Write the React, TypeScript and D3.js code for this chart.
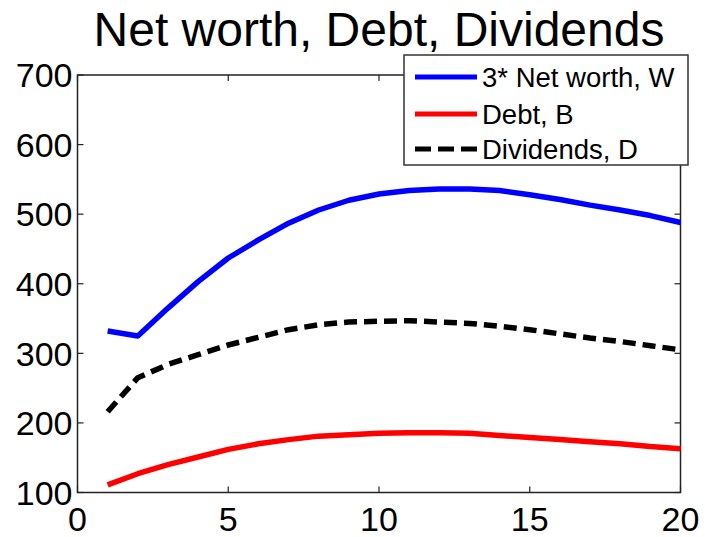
import React from 'react';
import * as d3 from 'd3';

// years 1..20
const periods = d3.range(1, 21);

const netWorth3 = [332, 325, 365, 403, 437, 463, 487, 506, 520, 529, 534, 536, 536, 534, 528, 521, 513, 506, 498, 488];
const debt = [111, 127, 140, 151, 162, 170, 176, 181, 183, 185, 186, 186, 185, 182, 179, 176, 173, 170, 166, 163];
const dividends = [216, 265, 284, 298, 312, 323, 334, 341, 345, 346, 347, 345, 343, 339, 334, 328, 322, 317, 311, 305];

const xTicks = [0, 5, 10, 15, 20];
const yTicks = [100, 200, 300, 400, 500, 600, 700];

const series = [
  { name: '3* Net worth, W', values: netWorth3, color: '#0000ff', dash: null },
  { name: 'Debt, B', values: debt, color: '#ff0000', dash: null },
  { name: 'Dividends, D', values: dividends, color: '#000000', dash: '13,7' },
];

const W = 705;
const H = 537;
const margin = { left: 77.5, right: 24.5, top: 75, bottom: 44.5 };

export default function App() {
  const x = d3.scaleLinear().domain([0, 20]).range([margin.left, W - margin.right]);
  const y = d3.scaleLinear().domain([100, 700]).range([H - margin.bottom, margin.top]);

  const line = d3.line<number>()
    .x((_, i) => x(periods[i]))
    .y(d => y(d));

  const [x0, x1] = x.range();
  const [y0, y1] = y.range();
  const tick = 6;
  const font = '"Liberation Sans", Arial, sans-serif';

  // legend box
  const lg = { x: 404, y: 55, w: 284, h: 110 };
  const rowY = [77, 114, 149];

  return (
    <div style={{ position: 'absolute', left: 0, top: 0 }}>
      <svg width={W} height={H} style={{ display: 'block', background: '#fff' }} fontFamily={font}>
        <rect width={W} height={H} fill="#fff" />
        <text x={379} y={46} textAnchor="middle" fontSize={48} fill="#000">
          Net worth, Debt, Dividends
        </text>

        {/* axes box */}
        <rect x={x0} y={y1} width={x1 - x0} height={y0 - y1} fill="none" stroke="#222" strokeWidth={1.5} />

        {xTicks.map(t => (
          <g key={'x' + t}>
            <line x1={x(t)} x2={x(t)} y1={y0} y2={y0 - tick} stroke="#222" strokeWidth={1.2} />
            <line x1={x(t)} x2={x(t)} y1={y1} y2={y1 + tick} stroke="#222" strokeWidth={1.2} />
            <text x={x(t)} y={531} textAnchor="middle" fontSize={34} fill="#000">{t}</text>
          </g>
        ))}
        {yTicks.map(t => (
          <g key={'y' + t}>
            <line x1={x0} x2={x0 + tick} y1={y(t)} y2={y(t)} stroke="#222" strokeWidth={1.2} />
            <line x1={x1} x2={x1 - tick} y1={y(t)} y2={y(t)} stroke="#222" strokeWidth={1.2} />
            <text x={x0 - 5} y={y(t)} dy="0.36em" textAnchor="end" fontSize={34} fill="#000">{t}</text>
          </g>
        ))}

        {series.map(s => (
          <path
            key={s.name}
            d={line(s.values) || ''}
            fill="none"
            stroke={s.color}
            strokeWidth={5.5}
            strokeLinejoin="round"
            strokeDasharray={s.dash || undefined}
          />
        ))}

        {/* legend */}
        <rect x={lg.x} y={lg.y} width={lg.w} height={lg.h} fill="#fff" stroke="#333" strokeWidth={1.5} />
        {series.map((s, i) => (
          <g key={'lg' + s.name}>
            <line x1={415} x2={477} y1={rowY[i]} y2={rowY[i]} stroke={s.color} strokeWidth={5}
              strokeDasharray={s.dash ? '16,7' : undefined} />
            <text x={482} y={rowY[i]} dy="0.36em" fontSize={27.5} fill="#000">{s.name}</text>
          </g>
        ))}
      </svg>
    </div>
  );
}
